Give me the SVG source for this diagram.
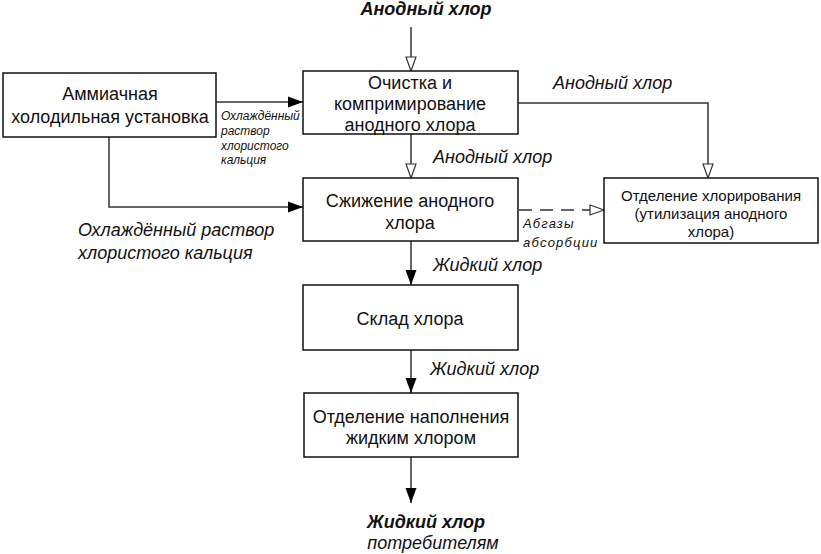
<svg xmlns="http://www.w3.org/2000/svg" width="821" height="554" viewBox="0 0 821 554">
<style>
.box{fill:#fff;stroke:#111;stroke-width:1.5}
.t{font-family:"Liberation Sans",Arial,sans-serif;font-size:18px;fill:#111;text-anchor:middle}
.ts{font-family:"Liberation Sans",Arial,sans-serif;font-size:15px;fill:#111;text-anchor:middle}
.lab{font-family:"Liberation Sans",Arial,sans-serif;font-style:italic;font-size:18px;fill:#111}
.labs{font-family:"Liberation Sans",Arial,sans-serif;font-style:italic;font-size:12px;fill:#111}
.labg{font-family:"Liberation Sans",Arial,sans-serif;font-style:italic;font-size:13px;letter-spacing:1.2px;fill:#111}
.labb{font-family:"Liberation Sans",Arial,sans-serif;font-style:italic;font-weight:bold;font-size:18px;fill:#111;text-anchor:middle}
.ln{fill:none;stroke:#333;stroke-width:1.5}
</style>
<defs>
<marker id="open" viewBox="0 0 16 12" refX="15" refY="6" markerWidth="16" markerHeight="12" markerUnits="userSpaceOnUse" orient="auto">
<path d="M1,1 L15,6 L1,11 Z" fill="#fff" stroke="#333" stroke-width="1.2"/>
</marker>
<marker id="fill" viewBox="0 0 16 12" refX="15" refY="6" markerWidth="16" markerHeight="12" markerUnits="userSpaceOnUse" orient="auto">
<path d="M0,0.5 L15,6 L0,11.5 Z" fill="#000"/>
</marker>
</defs>
<g id="connectors">
<path class="ln" d="M411,27 V71" marker-end="url(#open)"/>
<path class="ln" d="M411,134 V178" marker-end="url(#open)"/>
<path class="ln" d="M518,103 H708 V178" marker-end="url(#open)"/>
<path class="ln" d="M519,210 H604" stroke-dasharray="13,8" marker-end="url(#open)"/>
<path class="ln" d="M216,102 H303" marker-end="url(#fill)"/>
<path class="ln" d="M109,137 V207 H303" marker-end="url(#fill)"/>
<path class="ln" d="M411,241 V285" marker-end="url(#fill)"/>
<path class="ln" d="M411,350 V393" marker-end="url(#fill)"/>
<path class="ln" d="M411,457 V503" marker-end="url(#fill)"/>
<text class="labb" x="426" y="15">Анодный хлор</text>
<text class="lab" x="553" y="89">Анодный хлор</text>
<text class="lab" x="433" y="163">Анодный хлор</text>
<text class="labs" x="221" y="120">Охлаждённый</text>
<text class="labs" x="221" y="135">раствор</text>
<text class="labs" x="221" y="150">хлористого</text>
<text class="labs" x="221" y="164">кальция</text>
<text class="lab" x="78" y="236">Охлаждённый раствор</text>
<text class="lab" x="78" y="259">хлористого кальция</text>
<text class="labg" x="523" y="228">Абгазы</text>
<text class="labg" x="523" y="247">абсорбции</text>
<text class="lab" x="433" y="271">Жидкий хлор</text>
<text class="lab" x="430" y="375">Жидкий хлор</text>
<text class="labb" x="426" y="528">Жидкий хлор</text>
<text class="lab" x="433" y="549" text-anchor="middle">потребителям</text>
</g>
<g id="n1">
<rect class="box" x="3" y="73" width="213" height="64"/>
<text class="t" x="110" y="100">Аммиачная</text>
<text class="t" x="110" y="123">холодильная установка</text>
</g>
<g id="n2">
<rect class="box" x="303" y="71" width="215" height="63"/>
<text class="t" x="410" y="89">Очистка и</text>
<text class="t" x="410" y="110">компримирование</text>
<text class="t" x="410" y="131">анодного хлора</text>
</g>
<g id="n3">
<rect class="box" x="303" y="178" width="215" height="63"/>
<text class="t" x="410" y="207">Сжижение анодного</text>
<text class="t" x="410" y="229">хлора</text>
</g>
<g id="n4">
<rect class="box" x="604" y="178" width="214" height="65"/>
<text class="ts" x="711" y="201">Отделение хлорирования</text>
<text class="ts" x="711" y="219">(утилизация анодного</text>
<text class="ts" x="711" y="237">хлора)</text>
</g>
<g id="n5">
<rect class="box" x="303" y="285" width="215" height="65"/>
<text class="t" x="410" y="325">Склад хлора</text>
</g>
<g id="n6">
<rect class="box" x="304" y="393" width="214" height="64"/>
<text class="t" x="411" y="423">Отделение наполнения</text>
<text class="t" x="411" y="444">жидким хлором</text>
</g>
</svg>
